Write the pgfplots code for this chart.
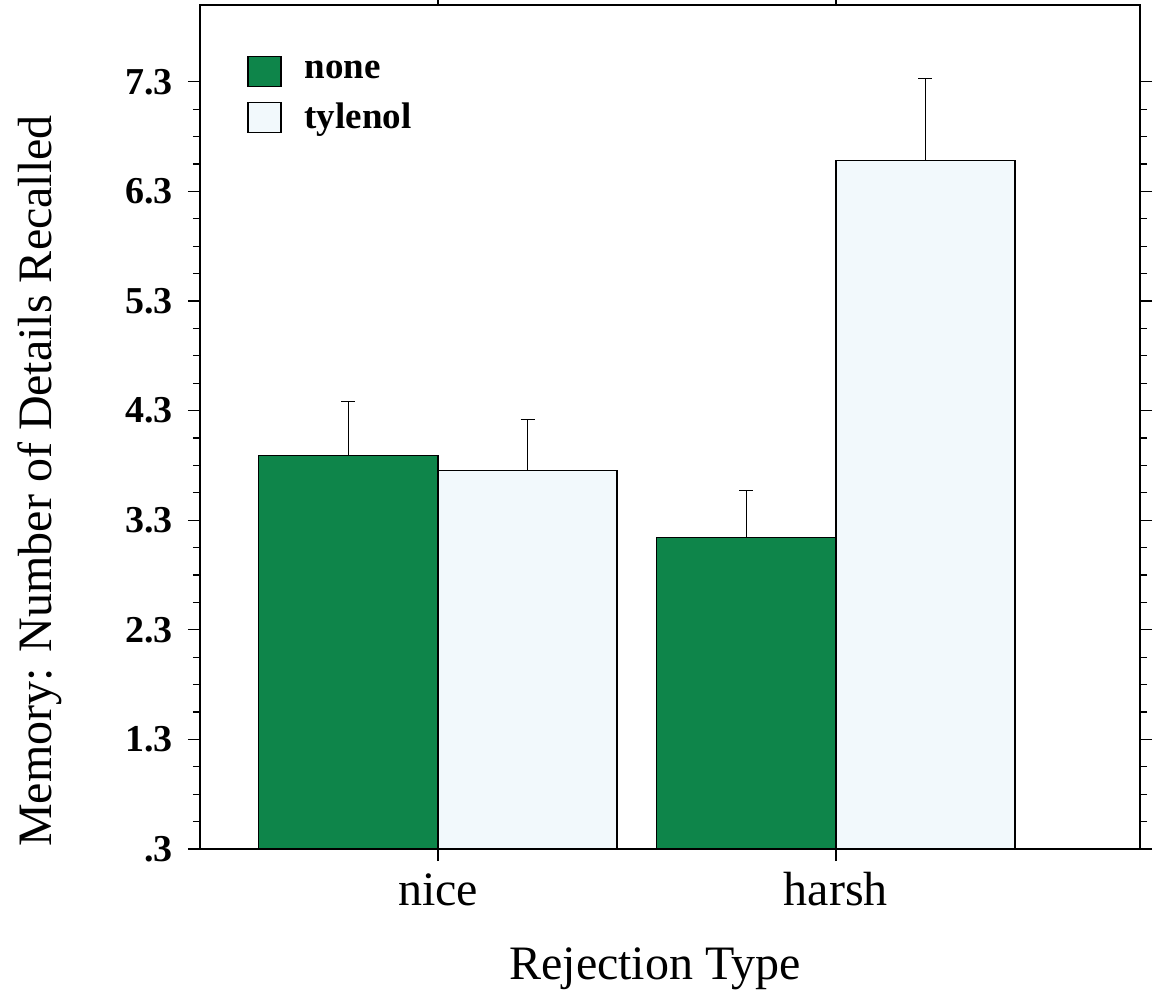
\documentclass[border=0pt]{standalone}
\usepackage{pgfplots}
\pgfplotsset{compat=1.18}
\usepackage{fontspec}
\setmainfont{Liberation Serif}
\definecolor{barGreen}{RGB}{14,133,74}
\definecolor{barWhite}{RGB}{242,249,252}
\begin{document}
\begin{tikzpicture}
\useasboundingbox (-100pt,-71.5pt) rectangle (479pt,424.5pt);
\begin{axis}[
  at={(0,0)}, anchor=south west,
  scale only axis, width=470pt, height=422pt,
  ybar=0pt, bar width=0.45,
  xmin=-0.598, xmax=1.764,
  ymin=0.3, ymax=8.0,
  xtick={0,1}, xticklabels={nice,harsh},
  ytick={0.3,1.3,2.3,3.3,4.3,5.3,6.3,7.3},
  yticklabels={\textbf{.3},\textbf{1.3},\textbf{2.3},\textbf{3.3},\textbf{4.3},\textbf{5.3},\textbf{6.3},\textbf{7.3}},
  minor y tick num=3,
  tick align=outside,
  major tick length=6pt, minor tick length=3.5pt,
  axis line style={line width=0.8pt},
  every tick/.style={black, line width=0.6pt},
  yticklabel style={font=\fontsize{19}{22}\selectfont, anchor=east, xshift=-4pt},
  xticklabel style={font=\fontsize{24}{28}\selectfont, anchor=base, yshift=-22pt},
  xlabel={Rejection Type},
  ylabel={Memory: Number of Details Recalled},
  xlabel style={font=\fontsize{24}{28}\selectfont, at={(axis description cs:0.484,-0.155)}, anchor=base},
  ylabel style={font=\fontsize{24}{28}\selectfont, at={(axis description cs:-0.17,0.436)}, anchor=center, rotate=0},
  legend style={draw=none, fill=none, at={(rel axis cs:0.05,0.94)}, anchor=north west,
    font=\bfseries\fontsize{18.5}{21.5}\selectfont, inner sep=0pt, row sep=6pt,
    legend cell align=left},
  legend image code/.code={\draw[#1, line width=0.6pt] (0pt,-7.5pt) rectangle (16.5pt,7.5pt); \path (26pt,0pt);},
  error bars/error mark=-,
  error bars/error bar style={line width=0.6pt, black},
  error bars/error mark options={rotate=90, mark size=3.5pt, line width=0.6pt, black},
]
\addplot+[fill=barGreen, draw=black, line width=0.6pt,
  error bars/.cd, y dir=plus, y explicit]
  coordinates {(0,3.89) +- (0,0.49) (1,3.14) +- (0,0.43)};
\addplot+[fill=barWhite, draw=black, line width=0.6pt,
  error bars/.cd, y dir=plus, y explicit]
  coordinates {(0,3.75) +- (0,0.47) (1,6.58) +- (0,0.75)};
\legend{none,tylenol}
\end{axis}
\end{tikzpicture}
\end{document}
